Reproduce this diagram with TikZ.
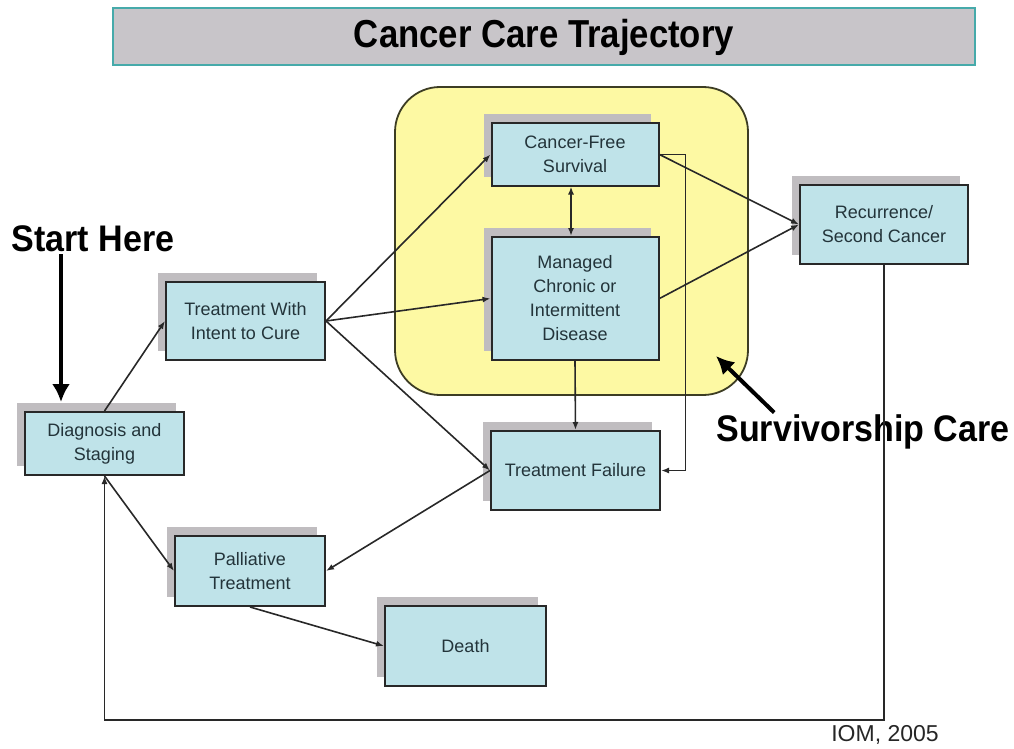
\documentclass[tikz,border=0pt]{standalone}
\usepackage{fontspec}
\setmainfont{Liberation Sans}
\usetikzlibrary{arrows.meta,shadows}
\definecolor{boxfill}{RGB}{191,227,233}
\definecolor{shadowc}{RGB}{192,189,192}
\definecolor{yellowc}{RGB}{253,249,163}
\definecolor{titlefill}{RGB}{200,197,201}
\definecolor{titleedge}{RGB}{70,170,170}
\definecolor{boxtext}{RGB}{35,52,58}
\definecolor{linec}{RGB}{40,40,40}
\tikzset{
  box/.style={draw=linec, line width=2pt, fill=boxfill, align=center, text=boxtext,
    font=\fontsize{18}{24}\selectfont, inner sep=2pt,
    general shadow={fill=shadowc, shadow xshift=-8pt, shadow yshift=9pt}},
  conn/.style={draw=linec, line width=1.6pt, -{Latex[length=8pt,width=6pt]}},
  bigarrow/.style={draw=black, line width=4pt, -{Latex[length=18pt,width=18pt]}},
  bigtext/.style={font=\bfseries\fontsize{37}{42}\selectfont, inner sep=0pt},
}
\begin{document}
\begin{tikzpicture}[x=1pt,y=-1pt]
\useasboundingbox (0,0) rectangle (1014,749);
% title
\node[draw=titleedge, line width=2pt, fill=titlefill, minimum width=862pt, minimum height=57pt,
  font=\bfseries\fontsize{39}{44}\selectfont, inner sep=0pt] (title) at (544,37) {\scalebox{0.89}[1]{Cancer Care Trajectory}};
% survivorship region
\draw[fill=yellowc, draw=linec!90!yellow, line width=1.8pt, rounded corners=45pt] (395,87) rectangle (748,395);
% nodes
\node[box, minimum width=159pt, minimum height=63pt] (diag) at (104.5,443.5) {Diagnosis and\\Staging};
\node[box, minimum width=159pt, minimum height=78pt] (cure) at (245.5,321) {Treatment With\\Intent to Cure};
\node[box, minimum width=167pt, minimum height=62pt] (free) at (575,154.5) {Cancer-Free\\Survival};
\node[box, minimum width=167pt, minimum height=123pt] (managed) at (575,298.5) {Managed\\Chronic or\\Intermittent\\Disease};
\node[box, minimum width=169pt, minimum height=79pt] (fail) at (575.5,470.5) {Treatment Failure};
\node[box, minimum width=168pt, minimum height=79pt] (recur) at (884,224.5) {Recurrence/\\Second Cancer};
\node[box, minimum width=150pt, minimum height=70pt] (pall) at (250,571) {Palliative\\Treatment};
\node[box, minimum width=161pt, minimum height=80pt] (death) at (465.5,646) {Death};
% labels
\node[bigtext] (start) at (93,239) {\scalebox{0.92}[1]{Start Here}};
\node[bigtext] (surv) at (863,432) {\scalebox{0.92}[1]{Survivorship Care}};
\node[font=\fontsize{23}{28}\selectfont, text=black!85, inner sep=0pt] (iom) at (885,735) {IOM, 2005};
\coordinate (survtip) at (716,356);
\coordinate (loopc) at (884,720);
% connectors
\draw[conn] (diag.north) -- (cure.west);
\draw[conn] (cure.east) -- (free.west);
\draw[conn] (cure.east) -- (managed.west);
\draw[conn] (cure.east) -- (fail.west);
\draw[conn, {Latex[length=8pt,width=6pt]}-{Latex[length=8pt,width=6pt]}] ([xshift=-4pt]free.south) -- ([xshift=-4pt]managed.north);
\draw[conn] (free.east) -- (recur.west);
\draw[conn] (managed.east) -- (recur.west);
\draw[conn] (managed.south) -- (fail.north);
\draw[conn] (free.east) -- ++(26,0) |- (fail.east);
\draw[conn] (fail.west) -- (pall.east);
\draw[conn] (diag.south) -- (pall.west);
\draw[conn] (pall.south) -- (death.west);
\draw[conn] (recur.south) -- (loopc) -| (diag.south);
% big arrows
\draw[bigarrow] ([xshift=-32pt, yshift=-2pt]start.south) -- ([shift={(-43.5,-9)}]diag.north);
\draw[bigarrow] ([shift={(58,-2)}]surv.north west) -- (survtip);
\end{tikzpicture}
\end{document}
